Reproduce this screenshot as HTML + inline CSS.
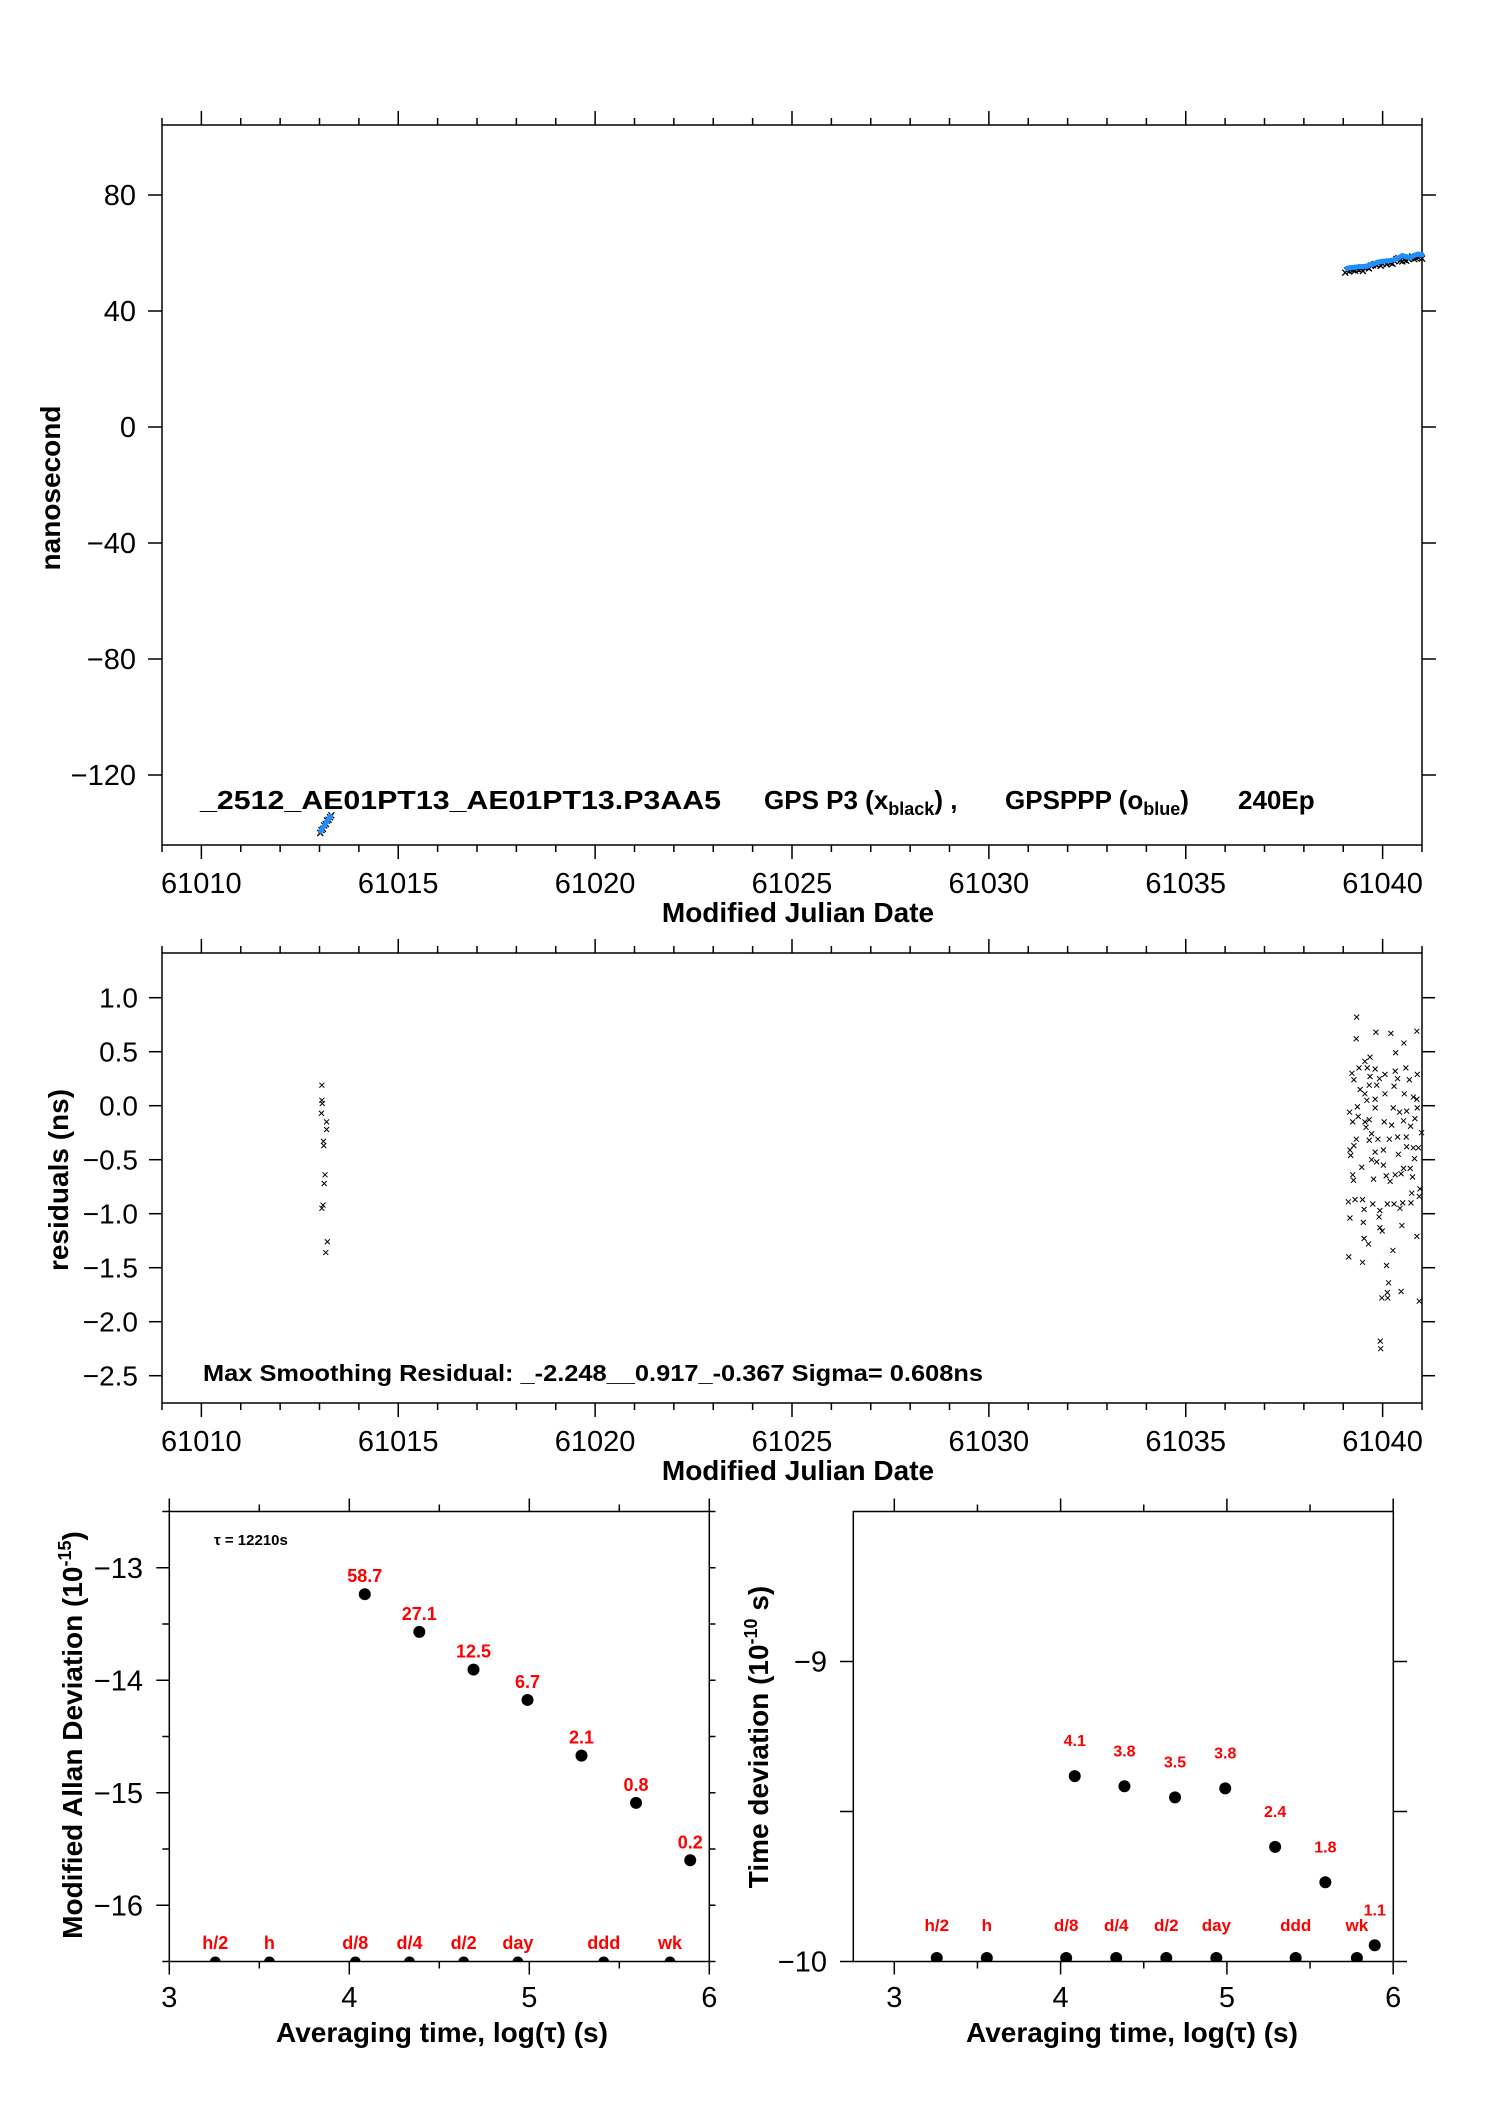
<!DOCTYPE html>
<html><head><meta charset="utf-8"><style>
html,body{margin:0;padding:0;background:#fff;}
svg{display:block;font-family:"Liberation Sans",Arial,sans-serif;}
</style></head><body>
<svg id="fig" width="1488" height="2105" viewBox="0 0 1488 2105" xmlns="http://www.w3.org/2000/svg">
<defs>
<clipPath id="clipA"><rect x="169.3" y="1511.5" width="540" height="450"/></clipPath>
<clipPath id="clipT"><rect x="853.3" y="1511.5" width="540" height="450"/></clipPath>
</defs>
<rect x="0" y="0" width="1488" height="2105" fill="#fff"/>
<rect x="162" y="125" width="1260" height="720" fill="none" stroke="#000" stroke-width="1.5"/>
<rect x="162" y="953" width="1260" height="450" fill="none" stroke="#000" stroke-width="1.5"/>
<rect x="169.3" y="1511.5" width="540" height="450" fill="none" stroke="#000" stroke-width="1.5"/>
<rect x="853.3" y="1511.5" width="540" height="450" fill="none" stroke="#000" stroke-width="1.5"/>
<g id="g"></g>
<text x="798" y="922" text-anchor="middle" font-size="28" font-weight="bold">Modified Julian Date</text>
<text transform="translate(60,488) rotate(-90)" text-anchor="middle" font-size="28" font-weight="bold">nanosecond</text>
<text x="200" y="809" font-size="26" font-weight="bold" textLength="521" lengthAdjust="spacingAndGlyphs">_2512_AE01PT13_AE01PT13.P3AA5</text>
<text x="764" y="809" font-size="26" font-weight="bold">GPS P3 (x<tspan font-size="18" dy="6">black</tspan><tspan dy="-6">) ,</tspan></text>
<text x="1005" y="809" font-size="26" font-weight="bold">GPSPPP (o<tspan font-size="18" dy="6">blue</tspan><tspan dy="-6">)</tspan></text>
<text x="1238" y="809" font-size="26" font-weight="bold">240Ep</text>
<text x="798" y="1480" text-anchor="middle" font-size="28" font-weight="bold">Modified Julian Date</text>
<text transform="translate(68,1180) rotate(-90)" text-anchor="middle" font-size="28" font-weight="bold">residuals (ns)</text>
<text x="203" y="1381" font-size="23" font-weight="bold" textLength="780" lengthAdjust="spacingAndGlyphs">Max Smoothing Residual: _-2.248__0.917_-0.367  Sigma= 0.608ns</text>
<text x="442" y="2042" text-anchor="middle" font-size="28" font-weight="bold">Averaging time, log(τ) (s)</text>
<text x="1132" y="2042" text-anchor="middle" font-size="28" font-weight="bold">Averaging time, log(τ) (s)</text>
<text transform="translate(82,1735) rotate(-90)" text-anchor="middle" font-size="28" font-weight="bold">Modified Allan Deviation (10<tspan font-size="18" dy="-11">-15</tspan><tspan dy="11">)</tspan></text>
<text transform="translate(768,1737) rotate(-90)" text-anchor="middle" font-size="28" font-weight="bold">Time deviation (10<tspan font-size="18" dy="-11">-10</tspan><tspan dy="11"> s)</tspan></text>
<text x="214" y="1545" font-size="15" font-weight="bold">τ = 12210s</text>
</svg>
<script>
var phaseTicksY = [80, 40, 0, -40, -80, -120];
var mjdTickLabels = [61010, 61015, 61020, 61025, 61030, 61035, 61040];
var residTicksY = [1.0, 0.5, 0.0, -0.5, -1.0, -1.5, -2.0, -2.5];
var residTickLabels = ['1.0','0.5','0.0','−0.5','−1.0','−1.5','−2.0','−2.5'];

var p3LeftT = [61013.02,61013.05,61013.09,61013.12,61013.16,61013.19,61013.23,61013.27,61013.3];
var p3LeftV = [-140.0,-139.0,-138.6,-137.4,-136.9,-135.7,-135.4,-134.6,-133.9];
var pppLeftT = [61013.03,61013.08,61013.13,61013.18,61013.23,61013.28];
var pppLeftV = [-139.3,-138.3,-137.3,-136.2,-135.2,-134.3];

var p3RightT = [61039.05,61039.1,61039.15,61039.2,61039.25,61039.3,61039.35,61039.4,61039.45,61039.5,61039.55,61039.6,61039.65,61039.7,61039.75,61039.8,61039.85,61039.9,61039.95,61040.0,61040.05,61040.1,61040.15,61040.2,61040.25,61040.3,61040.35,61040.4,61040.45,61040.5,61040.55,61040.6,61040.65,61040.7,61040.75,61040.8,61040.85,61040.9,61040.95,61041.0];
var p3RightV = [53.2,54.0,53.6,54.3,54.1,53.9,54.5,54.2,54.6,53.8,54.9,55.1,54.7,55.6,55.8,56.2,55.9,56.5,55.6,56.3,56.8,56.1,57.0,56.6,56.3,57.2,57.9,58.2,57.4,57.1,57.6,57.3,58.0,58.4,58.8,57.9,58.2,58.5,58.9,58.1];
var pppRightT = [61039.1,61039.2,61039.3,61039.4,61039.5,61039.6,61039.7,61039.8,61039.9,61040.0,61040.1,61040.2,61040.3,61040.4,61040.5,61040.6,61040.7,61040.8,61040.9,61041.0];
var pppRightV = [54.7,55.0,55.1,55.3,55.3,55.5,55.9,56.4,56.9,57.1,57.3,57.4,57.7,58.3,59.1,58.7,58.4,59.2,59.6,59.4];

var resLeftT = [61013.06,61013.06,61013.07,61013.05,61013.18,61013.18,61013.1,61013.11,61013.14,61013.12,61013.09,61013.06,61013.2,61013.16];
var resLeftV = [0.19,0.05,0.02,-0.07,-0.15,-0.22,-0.33,-0.37,-0.64,-0.72,-0.92,-0.95,-1.26,-1.36];
var resRightT = [61039.34,61039.33,61039.83,61040.21,61040.87,61040.54,61040.33,61039.68,61039.55,61039.40,61039.61,61039.22,61039.81,61039.68,61039.27,61040.06,61040.32,61040.59,61040.88,61040.38,61039.92,61040.68,61039.43,61039.66,61039.85,61040.29,61039.55,61040.06,61040.55,61040.78,61039.60,61039.81,61040.87,61039.36,61039.16,61039.81,61040.27,61040.43,61040.61,61040.88,61039.38,61039.24,61039.55,61039.66,61040.04,61040.23,61040.53,61040.82,61039.58,61040.71,61039.33,61039.72,61039.66,61039.88,61040.17,61040.38,61040.60,61040.99,61039.27,61039.17,61039.19,61039.81,61040.02,61040.40,61040.61,61040.78,61040.91,61040.81,61039.72,61039.85,61040.02,61039.47,61040.53,61040.70,61039.24,61039.26,61039.77,61040.09,61040.19,61040.32,61040.47,61040.76,61040.95,61040.74,61040.93,61039.13,61039.30,61039.49,61039.75,61039.53,61039.93,61040.12,61040.29,61040.44,61040.51,61040.72,61039.17,61039.51,61039.91,61039.93,61039.99,61040.49,61040.87,61039.53,61039.64,61040.26,61039.14,61039.49,61040.10,61040.15,61040.12,61039.98,61040.13,61040.47,61040.93,61039.94,61039.95];
var resRightV = [0.82,0.62,0.68,0.67,0.69,0.58,0.49,0.45,0.41,0.35,0.35,0.30,0.34,0.27,0.24,0.29,0.32,0.35,0.29,0.25,0.25,0.24,0.15,0.19,0.19,0.18,0.11,0.11,0.11,0.08,0.05,0.06,0.06,-0.01,-0.06,-0.02,-0.02,-0.06,-0.05,-0.02,-0.10,-0.15,-0.15,-0.13,-0.15,-0.18,-0.14,-0.12,-0.20,-0.19,-0.31,-0.26,-0.32,-0.31,-0.31,-0.29,-0.29,-0.25,-0.37,-0.41,-0.46,-0.43,-0.41,-0.45,-0.38,-0.39,-0.39,-0.49,-0.50,-0.52,-0.55,-0.57,-0.58,-0.58,-0.64,-0.69,-0.68,-0.65,-0.70,-0.64,-0.63,-0.66,-0.77,-0.81,-0.84,-0.89,-0.87,-0.87,-0.91,-0.96,-0.97,-0.91,-0.91,-0.95,-0.90,-0.90,-1.04,-1.08,-1.03,-1.13,-1.16,-1.11,-1.21,-1.23,-1.28,-1.34,-1.40,-1.45,-1.48,-1.64,-1.73,-1.78,-1.78,-1.72,-1.81,-2.18,-2.25];

var logTicks = [3, 4, 5, 6];
var adevTicksY = [-13, -14, -15, -16];
var adevX = [4.086, 4.389, 4.69, 4.99, 5.29, 5.593, 5.894];
var adevY = [-13.235, -13.57, -13.905, -14.175, -14.67, -15.09, -15.6];
var adevLabels = ['58.7','27.1','12.5','6.7','2.1','0.8','0.2'];
var tdevTicksY = [-9, -10];
var tdevX = [4.085, 4.384, 4.688, 4.99, 5.29, 5.592, 5.889];
var tdevY = [-9.382, -9.416, -9.453, -9.423, -9.618, -9.736, -9.946];
var tdevLabels = ['4.1','3.8','3.5','3.8','2.4','1.8','1.1'];
var markNames = ['h/2','h','d/8','d/4','d/2','day','ddd','wk'];
var markSeconds = [1800, 3600, 10800, 21600, 43200, 86400, 259200, 604800];

function X(m){ return 162 + (m - 61009) * 39.375; }
function Y1(v){ return 427 - v * 2.9; }
function R(v){ return 997.7 - (v - 1) * 108; }
function AX(l){ return 169.3 + (l - 3) * 180; }
function AY(v){ return 1961.5 - (v + 16.5) * 112.5; }
function TX(l){ return 894.3 + (l - 3) * 166.3; }
function TY(v){ return 1961.5 - (v + 10) * 300; }

var NS = 'http://www.w3.org/2000/svg';
var G = document.getElementById('g');
function mk(tag, a, txt){ var e = document.createElementNS(NS, tag); for (var k in a) e.setAttribute(k, a[k]); if (txt !== undefined) e.textContent = txt; G.appendChild(e); return e; }
function ln(x1,y1,x2,y2,w){ return mk('line',{x1:x1,y1:y1,x2:x2,y2:y2,stroke:'#000','stroke-width':w||1.5}); }
function cross(cx,cy,s,w){ return mk('path',{d:'M'+(cx-s)+' '+(cy-s)+'L'+(cx+s)+' '+(cy+s)+'M'+(cx-s)+' '+(cy+s)+'L'+(cx+s)+' '+(cy-s),stroke:'#000','stroke-width':w,fill:'none'}); }
var e, i, d;

[[125,845],[953,1403]].forEach(function(p){
  for (d = 61009; d <= 61041; d++) {
    var maj = (d % 5 === 0);
    var L = maj ? 14 : 7;
    e = ln(X(d), p[0], X(d), p[0] - L);
    
    
    e = ln(X(d), p[1], X(d), p[1] + L);
    
    
  }
  mjdTickLabels.forEach(function(t){
    e = mk('text',{x:X(t), y:p[1]+48, 'text-anchor':'middle','font-size':29}, String(t));
    
    
  });
});

phaseTicksY.forEach(function(v){
  e = ln(148, Y1(v), 162, Y1(v));
  
  
  e = ln(1422, Y1(v), 1436, Y1(v));
  
  
  e = mk('text',{x:136, y:Y1(v)+10, 'text-anchor':'end','font-size':29}, (v<0?'−':'')+Math.abs(v));
  
  
});

residTicksY.forEach(function(v, k){
  e = ln(149, R(v), 162, R(v));
  
  
  e = ln(1422, R(v), 1435, R(v));
  
  
  e = mk('text',{x:138, y:R(v)+10, 'text-anchor':'end','font-size':28}, residTickLabels[k]);
  
  
});

function p3(ts, vs){
  for (i = 0; i < ts.length; i++) {
    e = cross(X(ts[i]), Y1(vs[i]), 3, 1.3);
    
    
  }
}
function ppp(ts, vs){
  var pts = [];
  for (i = 0; i < ts.length; i++) pts.push(X(ts[i]) + ',' + Y1(vs[i]));
  e = mk('polyline',{points:pts.join(' '), fill:'none', stroke:'#1e8fff','stroke-width':5,'stroke-linejoin':'round','stroke-linecap':'round'});
  
  
  for (i = 0; i < ts.length; i++) {
    e = mk('circle',{cx:X(ts[i]), cy:Y1(vs[i]), r:2.6, fill:'#1e8fff'});
    
    
  }
}
p3(p3LeftT, p3LeftV);
p3(p3RightT, p3RightV);
ppp(pppLeftT, pppLeftV);
ppp(pppRightT, pppRightV);

function resid(ts, vs){
  for (i = 0; i < ts.length; i++) {
    e = cross(X(ts[i]), R(vs[i]), 2.5, 1);
    
    
  }
}
resid(resLeftT, resLeftV);
resid(resRightT, resRightV);

function logAxis(SX, left, right, top, bot, prefix){
  for (var l = 3; l <= 6.001; l += 0.5) {
    var maj = Math.abs(l - Math.round(l)) < 0.01;
    var L = maj ? 13 : 7;
    var x = SX(l);
    if (x < left - 1 || x > right + 1) continue;
    e = ln(x, top, x, top - L);
    
    
    e = ln(x, bot, x, bot + L);
    
    
  }
  logTicks.forEach(function(t){
    e = mk('text',{x:SX(t), y:2007, 'text-anchor':'middle','font-size':29}, String(t));
    
    
  });
}
logAxis(AX, 169.3, 709.3, 1511.5, 1961.5, 'allan');
logAxis(TX, 853.3, 1393.3, 1511.5, 1961.5, 'tdev');

for (var v = -16.5; v <= -12.49; v += 0.5) {
  var majA = Math.abs(v - Math.round(v)) < 0.01;
  e = ln(169.3 - (majA ? 13 : 7), AY(v), 169.3, AY(v));
  
  
  e = ln(709.3, AY(v), 715.5, AY(v));
  
  
}
adevTicksY.forEach(function(v){
  e = mk('text',{x:143, y:AY(v)+10, 'text-anchor':'end','font-size':29}, '−' + Math.abs(v));
  
  
});

[-10, -9.5, -9].forEach(function(v){
  e = ln(840, TY(v), 853.3, TY(v));
  
  
  e = ln(1393.3, TY(v), 1407, TY(v));
  
  
});
tdevTicksY.forEach(function(v){
  e = mk('text',{x:827, y:TY(v)+10, 'text-anchor':'end','font-size':29}, '−' + Math.abs(v));
  
  
});

for (i = 0; i < adevX.length; i++) {
  e = mk('circle',{cx:AX(adevX[i]), cy:AY(adevY[i]), r:6, fill:'#000'});
  
  
  e = mk('text',{x:AX(adevX[i]), y:AY(adevY[i]) - 12, 'text-anchor':'middle','font-size':18,'font-weight':'bold',fill:'#f00'}, adevLabels[i]);
  
  
}
for (i = 0; i < tdevX.length; i++) {
  e = mk('circle',{cx:TX(tdevX[i]), cy:TY(tdevY[i]), r:6, fill:'#000'});
  
  
  e = mk('text',{x:TX(tdevX[i]), y:TY(tdevY[i]) - 30, 'text-anchor':'middle','font-size':16,'font-weight':'bold',fill:'#f00'}, tdevLabels[i]);
  
  
}

for (i = 0; i < markSeconds.length; i++) {
  var lg = Math.log10(markSeconds[i]);
  e = mk('circle',{cx:AX(lg), cy:1962, r:5.5, fill:'#000','clip-path':'url(#clipA)'});
  
  
  e = mk('text',{x:AX(lg), y:1949, 'text-anchor':'middle','font-size':18,'font-weight':'bold',fill:'#f00'}, markNames[i]);
  
  
  e = mk('circle',{cx:TX(lg), cy:1958, r:6, fill:'#000','clip-path':'url(#clipT)'});
  
  
  e = mk('text',{x:TX(lg), y:1931, 'text-anchor':'middle','font-size':17,'font-weight':'bold',fill:'#f00'}, markNames[i]);
  
  
}
</script>
</body></html>
